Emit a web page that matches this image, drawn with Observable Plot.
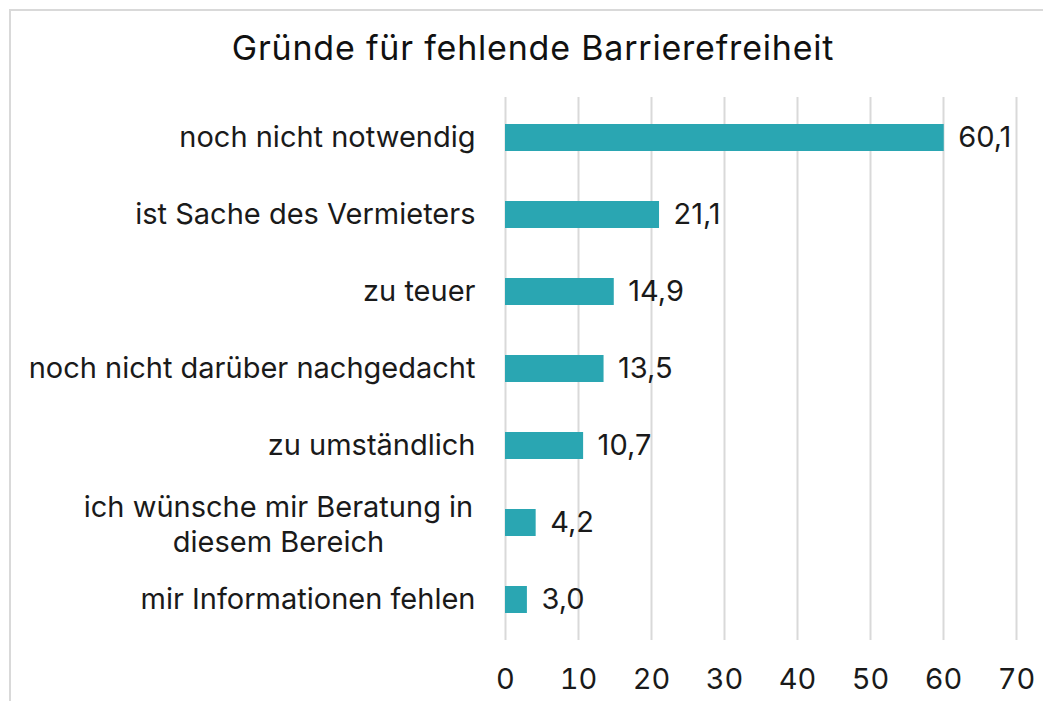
<!DOCTYPE html>
<html>
<head>
<meta charset="utf-8">
<script src="https://cdn.jsdelivr.net/npm/d3@7"></script>
<script src="https://cdn.jsdelivr.net/npm/@observablehq/plot@0.6"></script>
<style>
  html, body { margin: 0; padding: 0; background: #fff; overflow: hidden; }
  #frame { position: absolute; left: 9px; top: 9px; width: 1200px; height: 900px;
           border-left: 2px solid #d9d9d9; border-top: 2px solid #d9d9d9; }
  #wrap { position: absolute; left: 0; top: 0; width: 1043px; height: 701px; }
  #title { position: absolute; left: 0; top: 0; width: 1066px; height: 90px; text-align: center;
           font-family: Inter, "Liberation Sans", sans-serif; font-size: 34px; letter-spacing: 0.8px;
           line-height: 96px; color: #111; }
  #chart { position: absolute; left: 0; top: 90px; }
</style>
</head>
<body>
<div id="frame"></div>
<div id="wrap">
  <div id="title">Gründe für fehlende Barrierefreiheit</div>
  <div id="chart"></div>
</div>
<script>
const categories = [
  "noch nicht notwendig",
  "ist Sache des Vermieters",
  "zu teuer",
  "noch nicht darüber nachgedacht",
  "zu umständlich",
  "ich wünsche mir Beratung in\ndiesem Bereich",
  "mir Informationen fehlen"
];
const values = [60.1, 21.1, 14.9, 13.5, 10.7, 4.2, 3.0];
const xTicks = [0, 10, 20, 30, 40, 50, 60, 70];

const data = categories.map((c, i) => ({category: c, value: values[i]}));
const fmt = v => v.toFixed(1).replace(".", ",");
const font = "Inter, Liberation Sans, sans-serif";

const chart = Plot.plot({
  width: 1043,
  height: 611,
  marginTop: 7,
  marginBottom: 61,
  marginLeft: 505,
  marginRight: 27,
  style: {fontFamily: font, fontSize: "29px", color: "#1a1a1a", background: "transparent"},
  x: {domain: [0, 70], ticks: xTicks, label: null, axis: null},
  y: {domain: categories, paddingInner: 0.65, paddingOuter: 0.325, label: null, axis: null},
  marks: [
    Plot.ruleX(xTicks, {stroke: "#d9d9d9", strokeWidth: 2}),
    Plot.barX(data, {x: "value", y: "category", fill: "#2aa6b2"}),
    Plot.text(data, {x: "value", y: "category", text: d => fmt(d.value), textAnchor: "start", dx: 14, fontSize: 29, fill: "#1a1a1a"}),
    Plot.text(data.filter(d => !d.category.includes("\n")), {x: 0, y: "category", text: "category", textAnchor: "end", dx: -30, fontSize: 29, fill: "#1a1a1a"}),
    Plot.text(data.filter(d => d.category.includes("\n")), {x: 0, y: "category", text: "category", textAnchor: "middle", dx: -227, fontSize: 29, lineHeight: 1.2, fill: "#1a1a1a"}),
    Plot.axisX(xTicks, {tickSize: 0, tickPadding: 28, fontSize: 29, fill: "#1a1a1a", tickFormat: d => d, label: null})
  ]
});
document.getElementById("chart").appendChild(chart);
</script>
</body>
</html>
